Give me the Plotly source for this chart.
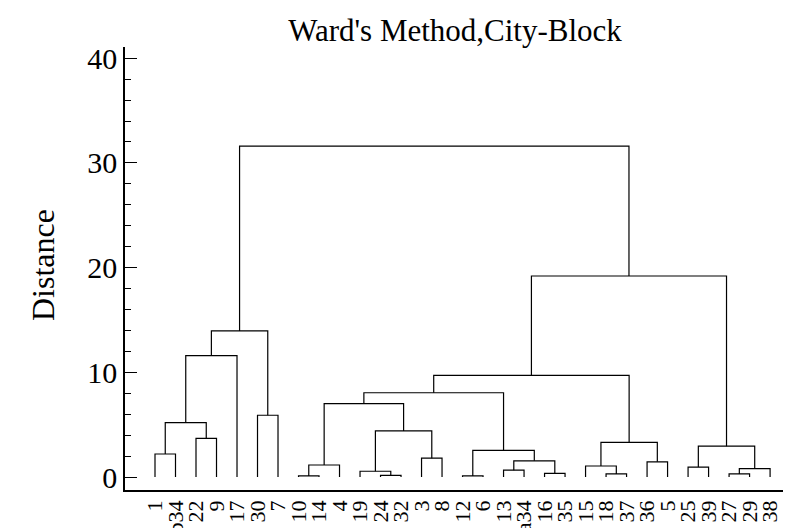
import plotly.graph_objects as go

# Leaf order along the x axis (tick labels)
leaf_labels = ["1", "b34", "22", "9", "17", "30", "7", "10", "14", "4", "19", "24", "32",
               "3", "8", "12", "6", "13", "a34", "16", "35", "15", "18", "37", "36", "5",
               "25", "39", "27", "29", "38"]

# Merge steps: (left child, right child, distance); "#k" refers to merge k
merge_left = ["1", "22", "#0", "#2", "30", "#3", "10", "#6", "24", "19", "3", "#9", "#7",
              "12", "13", "16", "#14", "#13", "#12", "18", "15", "36", "#20", "#18",
              "25", "27", "#25", "#24", "#23", "#5"]
merge_right = ["b34", "9", "#1", "17", "7", "#4", "14", "4", "32", "#8", "8", "#10", "#11",
               "6", "a34", "35", "#15", "#16", "#17", "37", "#19", "5", "#21", "#22",
               "39", "29", "38", "#26", "#27", "#28"]
merge_height = [2.2, 3.7, 5.2, 11.6, 5.9, 13.95, 0.1, 1.15, 0.15, 0.55, 1.8, 4.4, 7.0,
                0.1, 0.65, 0.35, 1.55, 2.55, 8.05, 0.3, 1.05, 1.45, 3.3, 9.7,
                0.95, 0.3, 0.8, 2.95, 19.2, 31.6]

y_tick_vals = [0, 10, 20, 30, 40]

leaf_pos = {lab: i for i, lab in enumerate(leaf_labels)}
node_x, node_y = [], []


def locate(ref):
    if ref.startswith("#"):
        k = int(ref[1:])
        return node_x[k], node_y[k]
    return float(leaf_pos[ref]), 0.0


xs, ys = [], []
for a, b, h in zip(merge_left, merge_right, merge_height):
    ax_, ay_ = locate(a)
    bx_, by_ = locate(b)
    xs += [ax_, ax_, bx_, bx_, None]
    ys += [ay_, h, h, by_, None]
    node_x.append((ax_ + bx_) / 2)
    node_y.append(h)

FONT = "Times New Roman, Liberation Serif, serif"

# the page body adds an 8px offset; the figure is sized to fill the rest of the window
W, H = 783, 520
L, T, B = 117, 39, 38
PW, PH = W - L, H - T - B

fig = go.Figure()
fig.add_trace(go.Scatter(x=xs, y=ys, mode="lines",
                         line=dict(color="black", width=1.2),
                         hoverinfo="skip", showlegend=False))

fig.update_layout(
    width=W, height=H,
    margin=dict(l=L, r=0, t=T, b=B),
    paper_bgcolor="white", plot_bgcolor="white",
    font=dict(family=FONT, color="black"),
    title=dict(text="Ward's Method,City-Block", font=dict(family=FONT, size=31, color="black"),
               x=447 / W, xref="container", xanchor="center",
               y=1 - 22 / H, yref="container", yanchor="middle"),
    showlegend=False,
)

fig.update_xaxes(
    range=[-1.463, 31.02],
    tickmode="array", tickvals=list(range(len(leaf_labels))), ticktext=leaf_labels,
    tickangle=-90, tickfont=dict(family=FONT, size=22, color="black"),
    ticks="", showgrid=False, zeroline=False,
    showline=True, linecolor="black", linewidth=1.5,
    automargin=False,
)

fig.update_yaxes(
    range=[-1.24, 41.07],
    tickmode="array", tickvals=y_tick_vals,
    ticks="inside", ticklen=12, tickwidth=1.3, tickcolor="black",
    minor=dict(dtick=2, tick0=0, ticks="inside", ticklen=6, tickwidth=1.3, tickcolor="black"),
    tickfont=dict(family=FONT, size=30, color="black"),
    showgrid=False, zeroline=False,
    showline=True, linecolor="black", linewidth=1.5,
    automargin=False,
)

fig.add_annotation(text="Distance", textangle=-90, showarrow=False,
                   xref="paper", yref="paper", x=(35 - L) / PW, y=(H - B - 257) / PH,
                   xanchor="center", yanchor="middle",
                   font=dict(family=FONT, size=32, color="black"))

fig.write_html("out.html")
